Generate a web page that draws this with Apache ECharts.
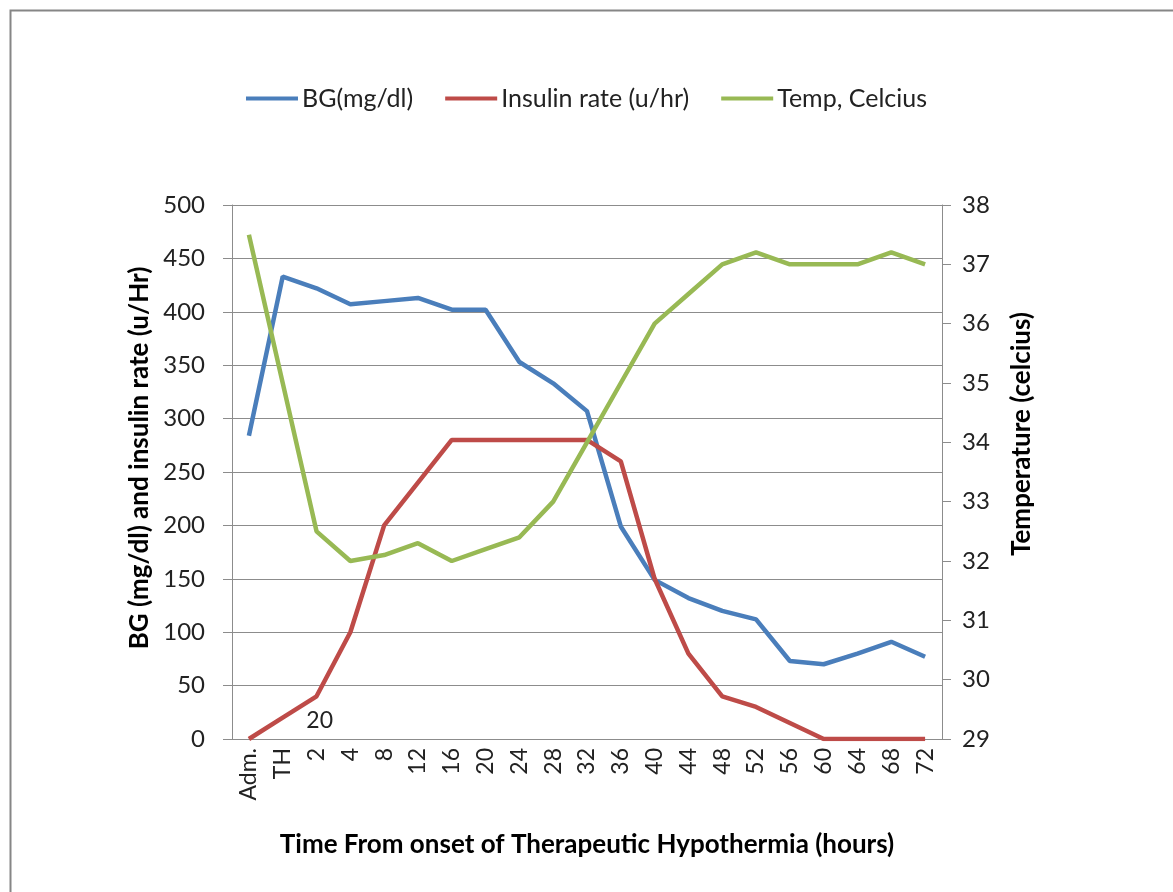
<!DOCTYPE html>
<html>
<head>
<meta charset="utf-8">
<script src="https://cdn.jsdelivr.net/npm/echarts@6/dist/echarts.min.js"></script>
<style>
html,body{margin:0;padding:0;background:#fff;}
#c{width:1173px;height:892px;}
</style>
</head>
<body>
<div id="c"></div>
<script>
const categories = ['Adm.','TH','2','4','8','12','16','20','24','28','32','36','40','44','48','52','56','60','64','68','72'];
const bg = [284,433,422,407,410,413,402,402,353,333,307,199,149,132,120,112,73,70,80,91,77];
const insulin = [0,20,40,100,200,240,280,280,280,280,280,260,150,80,40,30,15,0,0,0,0];
const temp = [37.5,35.0,32.5,32.0,32.1,32.3,32.0,32.2,32.4,33.0,34.0,35.0,36.0,36.5,37.0,37.2,37.0,37.0,37.0,37.2,37.0];
const leftTicks = {min:0, max:500, interval:50};
const rightTicks = {min:29, max:38, interval:1};

const FONT = 'Lato, "Liberation Sans", sans-serif';
const gridColor = '#8c8c8c';

const insulinData = insulin.map((v, i) => i === 1 ? {
  value: v,
  label: {show: true, formatter: '{c}', position: 'inside', offset: [37, 3], fontSize: 23, fontFamily: FONT, color: '#222'}
} : v);

const chart = echarts.init(document.getElementById('c'), null, {renderer: 'canvas'});
chart.setOption({
  backgroundColor: '#fff',
  animation: false,
  graphic: [{
    type: 'rect', left: 8, top: 8,
    shape: {width: 1200, height: 920},
    style: {fill: 'none', stroke: '#868686', lineWidth: 2},
    silent: true
  }],
  legend: {
    top: 81, left: 'center',
    itemWidth: 52, itemHeight: 4, itemGap: 32,
    icon: 'rect',
    textStyle: {fontFamily: FONT, fontSize: 25, color: '#222', padding: [0,0,0,-1]},
    data: ['BG(mg/dl)', 'Insulin rate (u/hr)', 'Temp, Celcius']
  },
  grid: {left: 232, right: 231, top: 205, bottom: 153, containLabel: false},
  xAxis: {
    type: 'category', data: categories, boundaryGap: true,
    name: 'Time From onset of Therapeutic Hypothermia (hours)',
    nameLocation: 'middle', nameGap: 93,
    nameTextStyle: {fontFamily: FONT, fontSize: 26, fontWeight: 'bold', color: '#000'},
    axisLine: {lineStyle: {color: gridColor, width: 1}},
    axisTick: {show: false},
    axisLabel: {rotate: 90, fontFamily: FONT, fontSize: 23, color: '#222', margin: 9, interval: 0}
  },
  yAxis: [{
    type: 'value', min: leftTicks.min, max: leftTicks.max, interval: leftTicks.interval,
    name: 'BG (mg/dl) and insulin rate (u/Hr)',
    nameLocation: 'middle', nameGap: 77, nameRotate: 90,
    nameTextStyle: {fontFamily: FONT, fontSize: 26, fontWeight: 'bold', color: '#000', padding: [0,0,0,28]},
    axisLine: {show: true, lineStyle: {color: gridColor, width: 1}},
    axisTick: {show: true, inside: false, length: 9, lineStyle: {color: gridColor}},
    axisLabel: {fontFamily: FONT, fontSize: 24, color: '#222', margin: 27},
    splitLine: {show: true, lineStyle: {color: gridColor, width: 1}}
  }, {
    type: 'value', min: rightTicks.min, max: rightTicks.max, interval: rightTicks.interval,
    position: 'right',
    name: 'Temperature (celcius)',
    nameLocation: 'middle', nameGap: 67, nameRotate: 90,
    nameTextStyle: {fontFamily: FONT, fontSize: 26, fontWeight: 'bold', color: '#000', padding: [0,0,0,76]},
    axisLine: {show: true, lineStyle: {color: gridColor, width: 1}},
    axisTick: {show: true, inside: false, length: 9, lineStyle: {color: gridColor}},
    axisLabel: {fontFamily: FONT, fontSize: 24, color: '#222', margin: 20},
    splitLine: {show: false}
  }],
  series: [{
    name: 'BG(mg/dl)', type: 'line', data: bg, yAxisIndex: 0,
    symbol: 'none', lineStyle: {color: '#4A7EBB', width: 4.5}, itemStyle: {color: '#4A7EBB'}, z: 3
  }, {
    name: 'Insulin rate (u/hr)', type: 'line', data: insulinData, yAxisIndex: 0,
    symbol: 'circle', symbolSize: 0, showSymbol: true,
    lineStyle: {color: '#BE4B48', width: 4.5}, itemStyle: {color: '#BE4B48'}, z: 4
  }, {
    name: 'Temp, Celcius', type: 'line', data: temp, yAxisIndex: 1,
    symbol: 'none', lineStyle: {color: '#98B954', width: 4.5}, itemStyle: {color: '#98B954'}, z: 5
  }]
});
</script>
</body>
</html>
